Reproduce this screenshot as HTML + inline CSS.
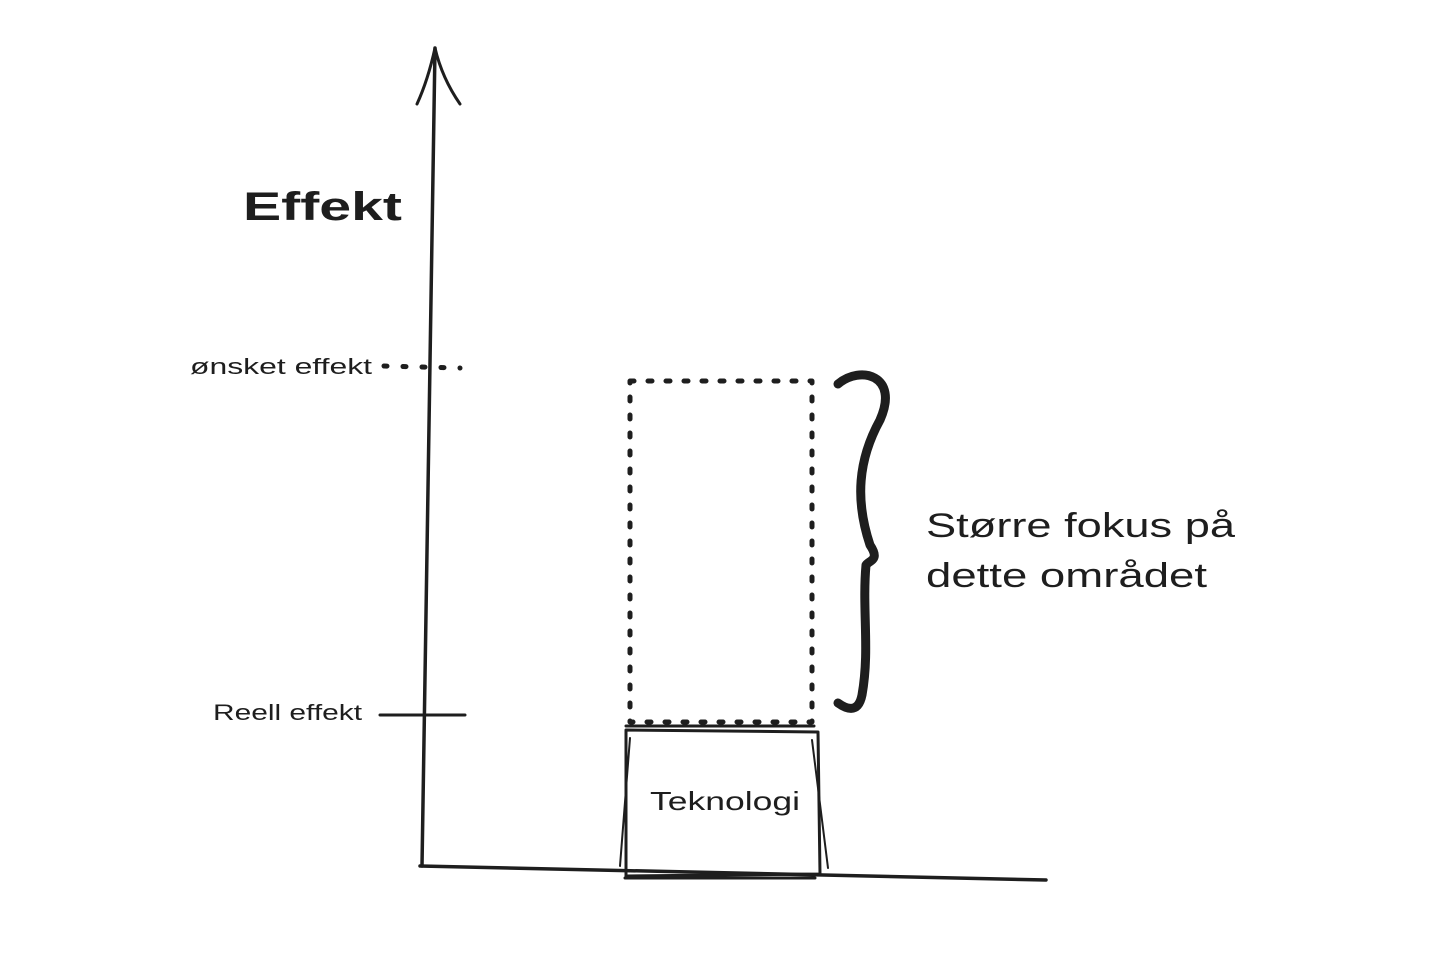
<!DOCTYPE html>
<html><head><meta charset="utf-8"><style>
html,body{margin:0;padding:0;background:#fff;}
svg{display:block;}
text{font-family:"Liberation Sans",sans-serif;fill:#1e1e1e;}
</style></head><body>
<svg width="1440" height="977" viewBox="0 0 1440 977" xmlns="http://www.w3.org/2000/svg">
<g stroke="#1e1e1e" fill="none" stroke-linecap="round" stroke-linejoin="round">
<path d="M435 48 L422 866" stroke-width="3.5"/>
<path d="M417 104 Q428 80 435 48 Q442 78 460 104" stroke-width="3"/>
<path d="M420 866 L1046 880" stroke-width="3.5"/>
<path d="M625 878 L815 878" stroke-width="3"/>
<path d="M384 366 L460 368" stroke-width="5" stroke-dasharray="3 16"/>
<path d="M380 715 L465 715" stroke-width="3"/>
<path d="M630 381 L812 381 L812 722 L630 722 Z" stroke-width="5" stroke-dasharray="4 14"/>
<path d="M626 730 L818 732 L820 874 L626 876 Z" stroke-width="3"/>
<path d="M626 726 L814 726" stroke-width="3"/>
<path d="M630 738 L620 866" stroke-width="2"/>
<path d="M812 740 L828 868" stroke-width="2"/>
<path d="M838 384 C860 365 900 375 880 420 C858 460 855 500 870 545 C880 560 870 560 866 565 C862 610 870 650 862 695 C858 715 845 708 838 703" stroke-width="9"/>
</g>
<text x="243" y="220" font-size="40" font-weight="bold" textLength="159" lengthAdjust="spacingAndGlyphs">Effekt</text>
<text x="190" y="374" font-size="22" textLength="182" lengthAdjust="spacingAndGlyphs">ønsket effekt</text>
<text x="213" y="720" font-size="22" textLength="149" lengthAdjust="spacingAndGlyphs">Reell effekt</text>
<text x="650" y="810" font-size="26" textLength="150" lengthAdjust="spacingAndGlyphs">Teknologi</text>
<text x="926" y="537" font-size="34" textLength="309" lengthAdjust="spacingAndGlyphs">Større fokus på</text>
<text x="926" y="587" font-size="34" textLength="281" lengthAdjust="spacingAndGlyphs">dette området</text>
</svg>
</body></html>
